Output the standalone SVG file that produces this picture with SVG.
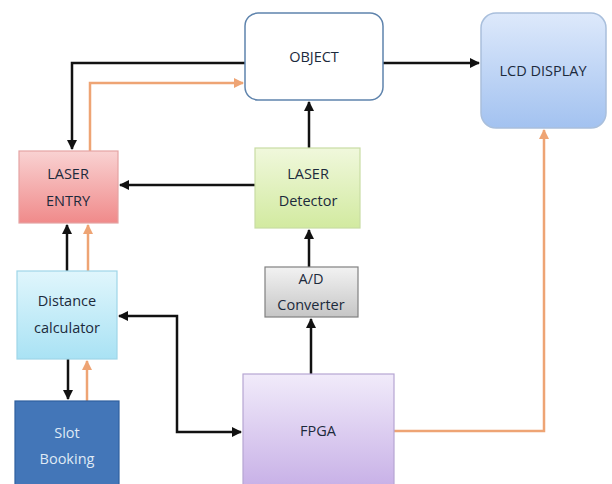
<svg xmlns="http://www.w3.org/2000/svg" width="612" height="484" viewBox="0 0 612 484">
<defs>
<linearGradient id="gPink" x1="0" y1="0" x2="0" y2="1"><stop offset="0" stop-color="#f9d2d2"/><stop offset="1" stop-color="#f08a8a"/></linearGradient>
<linearGradient id="gGreen" x1="0" y1="0" x2="0" y2="1"><stop offset="0" stop-color="#f0f8dc"/><stop offset="1" stop-color="#d2eaa0"/></linearGradient>
<linearGradient id="gCyan" x1="0" y1="0" x2="0" y2="1"><stop offset="0" stop-color="#e0f6fc"/><stop offset="1" stop-color="#a9e2f4"/></linearGradient>
<linearGradient id="gGray" x1="0" y1="0" x2="0" y2="1"><stop offset="0" stop-color="#f2f2f2"/><stop offset="1" stop-color="#c6c6c6"/></linearGradient>
<linearGradient id="gPurple" x1="0" y1="0" x2="0" y2="1"><stop offset="0" stop-color="#f1ebfa"/><stop offset="1" stop-color="#c6aee6"/></linearGradient>
<linearGradient id="gBlue" x1="0" y1="0" x2="0" y2="1"><stop offset="0" stop-color="#dde9fb"/><stop offset="1" stop-color="#a3c2f0"/></linearGradient>
<marker id="ab" viewBox="0 0 10 10" refX="9" refY="5" markerWidth="4" markerHeight="4" orient="auto-start-reverse"><path d="M0,0 L10,5 L0,10 z" fill="#111"/></marker>
<marker id="ao" viewBox="0 0 10 10" refX="9" refY="5" markerWidth="4" markerHeight="4" orient="auto-start-reverse"><path d="M0,0 L10,5 L0,10 z" fill="#eea474"/></marker>
</defs>
<style>
text{font-family:"Open Sans","Liberation Sans",sans-serif;font-size:14.5px;fill:#1c2a3c;text-anchor:middle;dominant-baseline:middle}
.blk{fill:none;stroke:#111;stroke-width:2.5}
.org{fill:none;stroke:#eea474;stroke-width:2.5}
</style>
<rect width="612" height="484" fill="#fff"/>
<g id="connectors">
<polyline class="blk" points="245,63 72,63 72,149" marker-end="url(#ab)"/>
<polyline class="org" points="90,151 90,83 243,83" marker-end="url(#ao)"/>
<line class="blk" x1="255" y1="185" x2="120" y2="185" marker-end="url(#ab)"/>
<line class="blk" x1="309" y1="148" x2="309" y2="102" marker-end="url(#ab)"/>
<line class="blk" x1="383" y1="63" x2="479" y2="63" marker-end="url(#ab)"/>
<polyline class="org" points="394,431 544,431 544,130" marker-end="url(#ao)"/>
<line class="blk" x1="309" y1="267" x2="309" y2="230" marker-end="url(#ab)"/>
<line class="blk" x1="311" y1="374" x2="311" y2="319" marker-end="url(#ab)"/>
<line class="blk" x1="67" y1="271" x2="67" y2="225" marker-end="url(#ab)"/>
<line class="org" x1="88" y1="271" x2="88" y2="225" marker-end="url(#ao)"/>
<polyline class="blk" points="119,316 177,316 177,432 241,432" marker-start="url(#ab)" marker-end="url(#ab)"/>
<line class="blk" x1="68" y1="359" x2="68" y2="399" marker-end="url(#ab)"/>
<line class="org" x1="87" y1="401" x2="87" y2="361" marker-end="url(#ao)"/>
</g>
<g id="object"><rect x="245" y="13" width="138" height="87" rx="13" fill="#fff" stroke="#5f84ad" stroke-width="1.5"/><text x="314" y="58">OBJECT</text></g>
<g id="lcd"><rect x="481" y="13" width="125" height="115" rx="15" fill="url(#gBlue)" stroke="#a9bfdc" stroke-width="1.5"/><text x="543" y="72">LCD DISPLAY</text></g>
<g id="laser-entry"><rect x="19" y="151" width="99" height="72" fill="url(#gPink)" stroke="#e4a4a4" stroke-width="1.2"/><text x="68" y="175">LASER</text><text x="68" y="202">ENTRY</text></g>
<g id="laser-detector"><rect x="255" y="148" width="105" height="80" fill="url(#gGreen)" stroke="#c8dca4" stroke-width="1.2"/><text x="308" y="175">LASER</text><text x="308" y="202">Detector</text></g>
<g id="distance"><rect x="17" y="271" width="100" height="88" fill="url(#gCyan)" stroke="#9fd6e8" stroke-width="1.2"/><text x="67" y="302">Distance</text><text x="67" y="329">calculator</text></g>
<g id="slot"><rect x="15" y="401" width="104" height="90" fill="#4376b8" stroke="#2f5f9e" stroke-width="1.2"/><text x="67" y="434" style="fill:#dfe9f5">Slot</text><text x="67" y="460" style="fill:#dfe9f5">Booking</text></g>
<g id="adc"><rect x="265" y="267" width="93" height="50" fill="url(#gGray)" stroke="#808080" stroke-width="1.2"/><text x="311" y="280">A/D</text><text x="311" y="306">Converter</text></g>
<g id="fpga"><rect x="243" y="374" width="151" height="118" fill="url(#gPurple)" stroke="#b6a6d2" stroke-width="1.2"/><text x="318" y="432">FPGA</text></g>
</svg>
